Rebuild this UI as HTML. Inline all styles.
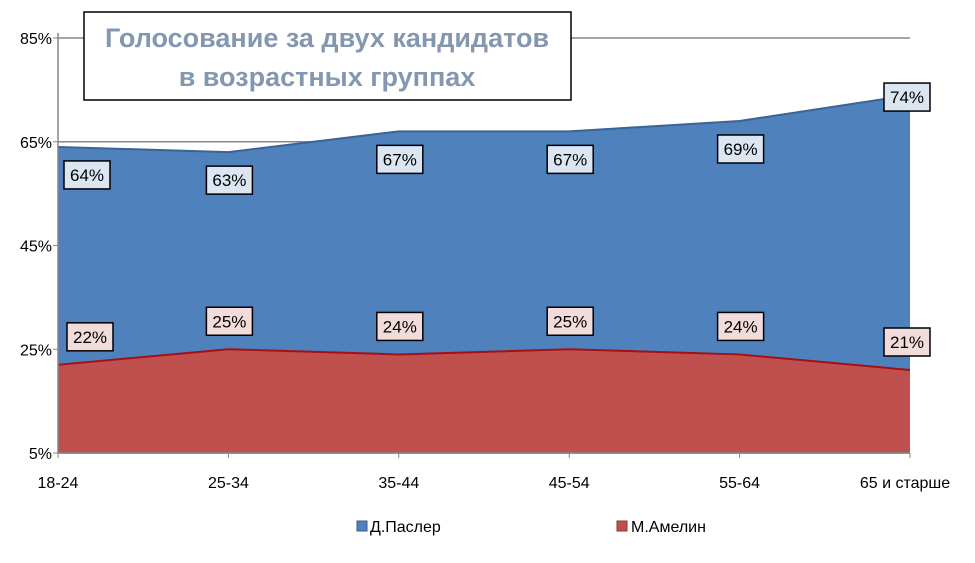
<!DOCTYPE html>
<html><head><meta charset="utf-8"><style>
body{margin:0;background:#fff;}
svg text{font-family:"Liberation Sans",sans-serif;}
</style></head><body>
<svg width="975" height="558" viewBox="0 0 975 558">
<g id="grid"></g>
<g id="areas"></g>
<g id="axes"></g>
<g id="labels"></g>
<rect x="84" y="12" width="487" height="88" fill="#fff" stroke="#000" stroke-width="1.5"/>
<text x="327" y="47" text-anchor="middle" font-size="27" font-weight="bold" fill="#8497b0">Голосование за двух кандидатов</text>
<text x="327" y="86" text-anchor="middle" font-size="27" font-weight="bold" fill="#8497b0">в возрастных группах</text>
<g>
<rect x="357" y="521" width="10" height="10" fill="#4f81bd" stroke="#385d8a"/>
<text x="370" y="532" font-size="16" fill="#000">Д.Паслер</text>
<rect x="617" y="521" width="10" height="10" fill="#c0504d" stroke="#8c3836"/>
<text x="631" y="532" font-size="16" fill="#000">М.Амелин</text>
</g>
</svg>
<script>
const categories=["18-24","25-34","35-44","45-54","55-64","65 и старше"];
const pasler=[64,63,67,67,69,74];
const amelin=[22,25,24,25,24,21];
const yTicks=[5,25,45,65,85];
const ns="http://www.w3.org/2000/svg";
const x0=58,x1=910,yTop=38,yBot=453;
const xs=i=>x0+i*(x1-x0)/(categories.length-1);
const ys=v=>yBot-(v-5)/80*(yBot-yTop);
function mk(tag,attrs,parent){const e=document.createElementNS(ns,tag);for(const k in attrs)e.setAttribute(k,attrs[k]);parent.appendChild(e);return e;}
const grid=document.getElementById('grid'),areas=document.getElementById('areas'),axes=document.getElementById('axes'),labels=document.getElementById('labels');
yTicks.forEach(t=>{
 const l=mk('line',{x1:x0,x2:x1,y1:ys(t),y2:ys(t),stroke:'#868686','stroke-width':1.5},grid);
 
 
 const tx=mk('text',{x:x0-6,y:ys(t)+6,'text-anchor':'end','font-size':16,fill:'#000'},axes);
 tx.textContent=t+'%';
 
 
 const tk=mk('line',{x1:x0-5,x2:x0,y1:ys(t),y2:ys(t),stroke:'#868686'},axes);
 
 
});
function areaPath(vals){let d='M'+xs(0)+','+yBot;vals.forEach((v,i)=>d+=' L'+xs(i)+','+ys(v));d+=' L'+xs(vals.length-1)+','+yBot+' Z';return d;}
function linePath(vals){return vals.map((v,i)=>(i?'L':'M')+xs(i)+','+ys(v)).join(' ');}
const a1=mk('path',{d:areaPath(pasler),fill:'#4f81bd'},areas);


const l1=mk('path',{d:linePath(pasler),fill:'none',stroke:'#3a6396','stroke-width':2},areas);


const a2=mk('path',{d:areaPath(amelin),fill:'#c0504d'},areas);


const l2=mk('path',{d:linePath(amelin),fill:'none',stroke:'#a50f15','stroke-width':2},areas);


const ax=mk('line',{x1:x0,x2:x1,y1:yBot,y2:yBot,stroke:'#868686','stroke-width':1.5},axes);


const ay=mk('line',{x1:x0,x2:x0,y1:yTop-5,y2:yBot,stroke:'#868686','stroke-width':1.5},axes);


categories.forEach((c,i)=>{
 const tx=mk('text',{x:i===categories.length-1?xs(i)-5:xs(i),y:488,'text-anchor':'middle','font-size':16,fill:'#000'},axes);
 tx.textContent=c;
 
 
 const tk=mk('line',{x1:xs(i),x2:xs(i),y1:yBot,y2:yBot+5,stroke:'#868686'},axes);
 
 
});
function label(x,y,txt,fill,name){
 const r=mk('rect',{x:x-23,y:y-14,width:46,height:28,fill:fill,stroke:'#000','stroke-width':1.5},labels);
 
 
 const t=mk('text',{x:x,y:y+6,'text-anchor':'middle','font-size':17,fill:'#000'},labels);
 t.textContent=txt;
 
 
}
pasler.forEach((v,i)=>{
 const last=i===pasler.length-1;
 let x=xs(i)+(i===0?29:i===pasler.length-1?-3:1);
 label(x,last?ys(v)+2:ys(v)+28,v+'%','#dce6f2','label-pasler');
});
amelin.forEach((v,i)=>{
 let x=xs(i)+(i===0?32:i===amelin.length-1?-3:1);
 label(x,ys(v)-28,v+'%','#f2dcdb','label-amelin');
});
</script>
</body></html>
